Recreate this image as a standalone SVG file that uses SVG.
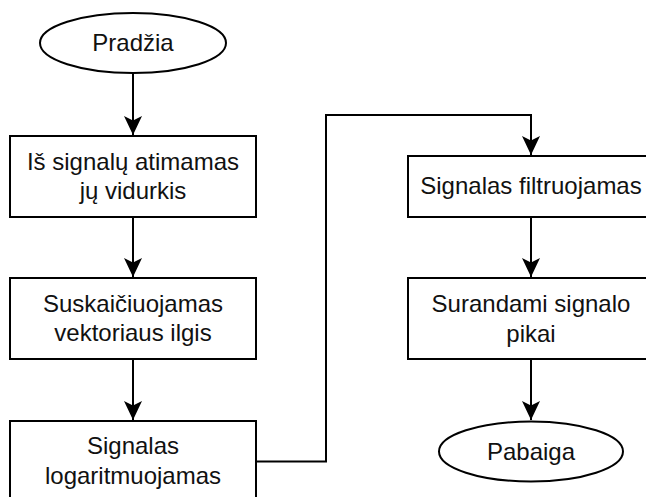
<svg xmlns="http://www.w3.org/2000/svg" width="646" height="497" viewBox="0 0 646 497">
  <style>
    .shape { fill: #ffffff; stroke: #000000; stroke-width: 2; }
    .label { font-family: "Liberation Sans", Arial, sans-serif; font-size: 24px; fill: #111111; text-anchor: middle; }
    .edge { fill: none; stroke: #000000; stroke-width: 2; marker-end: url(#arrow); }
  </style>
  <defs>
    <marker id="arrow" markerUnits="userSpaceOnUse" viewBox="-20 -10 21 20" markerWidth="21" markerHeight="20" refX="0" refY="0" orient="auto">
      <path d="M0,0 L-19,-9 L-14.5,0 L-19,9 Z" fill="#000000"/>
    </marker>
  </defs>
  <rect width="646" height="497" fill="#ffffff"/>

  <!-- connectors -->
  <g id="edges">
    <path class="edge" d="M133,73 L133,135"/>
    <path class="edge" d="M133,217 L133,277"/>
    <path class="edge" d="M133,359 L133,420"/>
    <path class="edge" d="M256,461.5 L326,461.5 L326,115 L531,115 L531,155"/>
    <path class="edge" d="M531,217 L531,277"/>
    <path class="edge" d="M531,359 L531,420"/>
  </g>

  <g id="start">
    <ellipse class="shape" cx="133" cy="43" rx="93" ry="30"/>
    <text class="label" x="133" y="51">Pradžia</text>
  </g>

  <g id="step-mean">
    <rect class="shape" x="10" y="136" width="246" height="81"/>
    <text class="label" x="133" y="169.5">Iš signalų atimamas</text>
    <text class="label" x="133" y="198.5">jų vidurkis</text>
  </g>

  <g id="step-length">
    <rect class="shape" x="10" y="278" width="246" height="81"/>
    <text class="label" x="133" y="311.5">Suskaičiuojamas</text>
    <text class="label" x="133" y="340.5">vektoriaus ilgis</text>
  </g>

  <g id="step-log">
    <rect class="shape" x="10" y="421" width="246" height="81"/>
    <text class="label" x="133" y="454">Signalas</text>
    <text class="label" x="133" y="483.5">logaritmuojamas</text>
  </g>

  <g id="step-filter">
    <rect class="shape" x="408" y="156" width="246" height="61"/>
    <text class="label" x="531" y="194">Signalas filtruojamas</text>
  </g>

  <g id="step-peaks">
    <rect class="shape" x="408" y="278" width="246" height="81"/>
    <text class="label" x="531" y="312">Surandami signalo</text>
    <text class="label" x="531" y="341.5">pikai</text>
  </g>

  <g id="end">
    <ellipse class="shape" cx="531" cy="451.5" rx="92" ry="30"/>
    <text class="label" x="531" y="459.5">Pabaiga</text>
  </g>
</svg>
